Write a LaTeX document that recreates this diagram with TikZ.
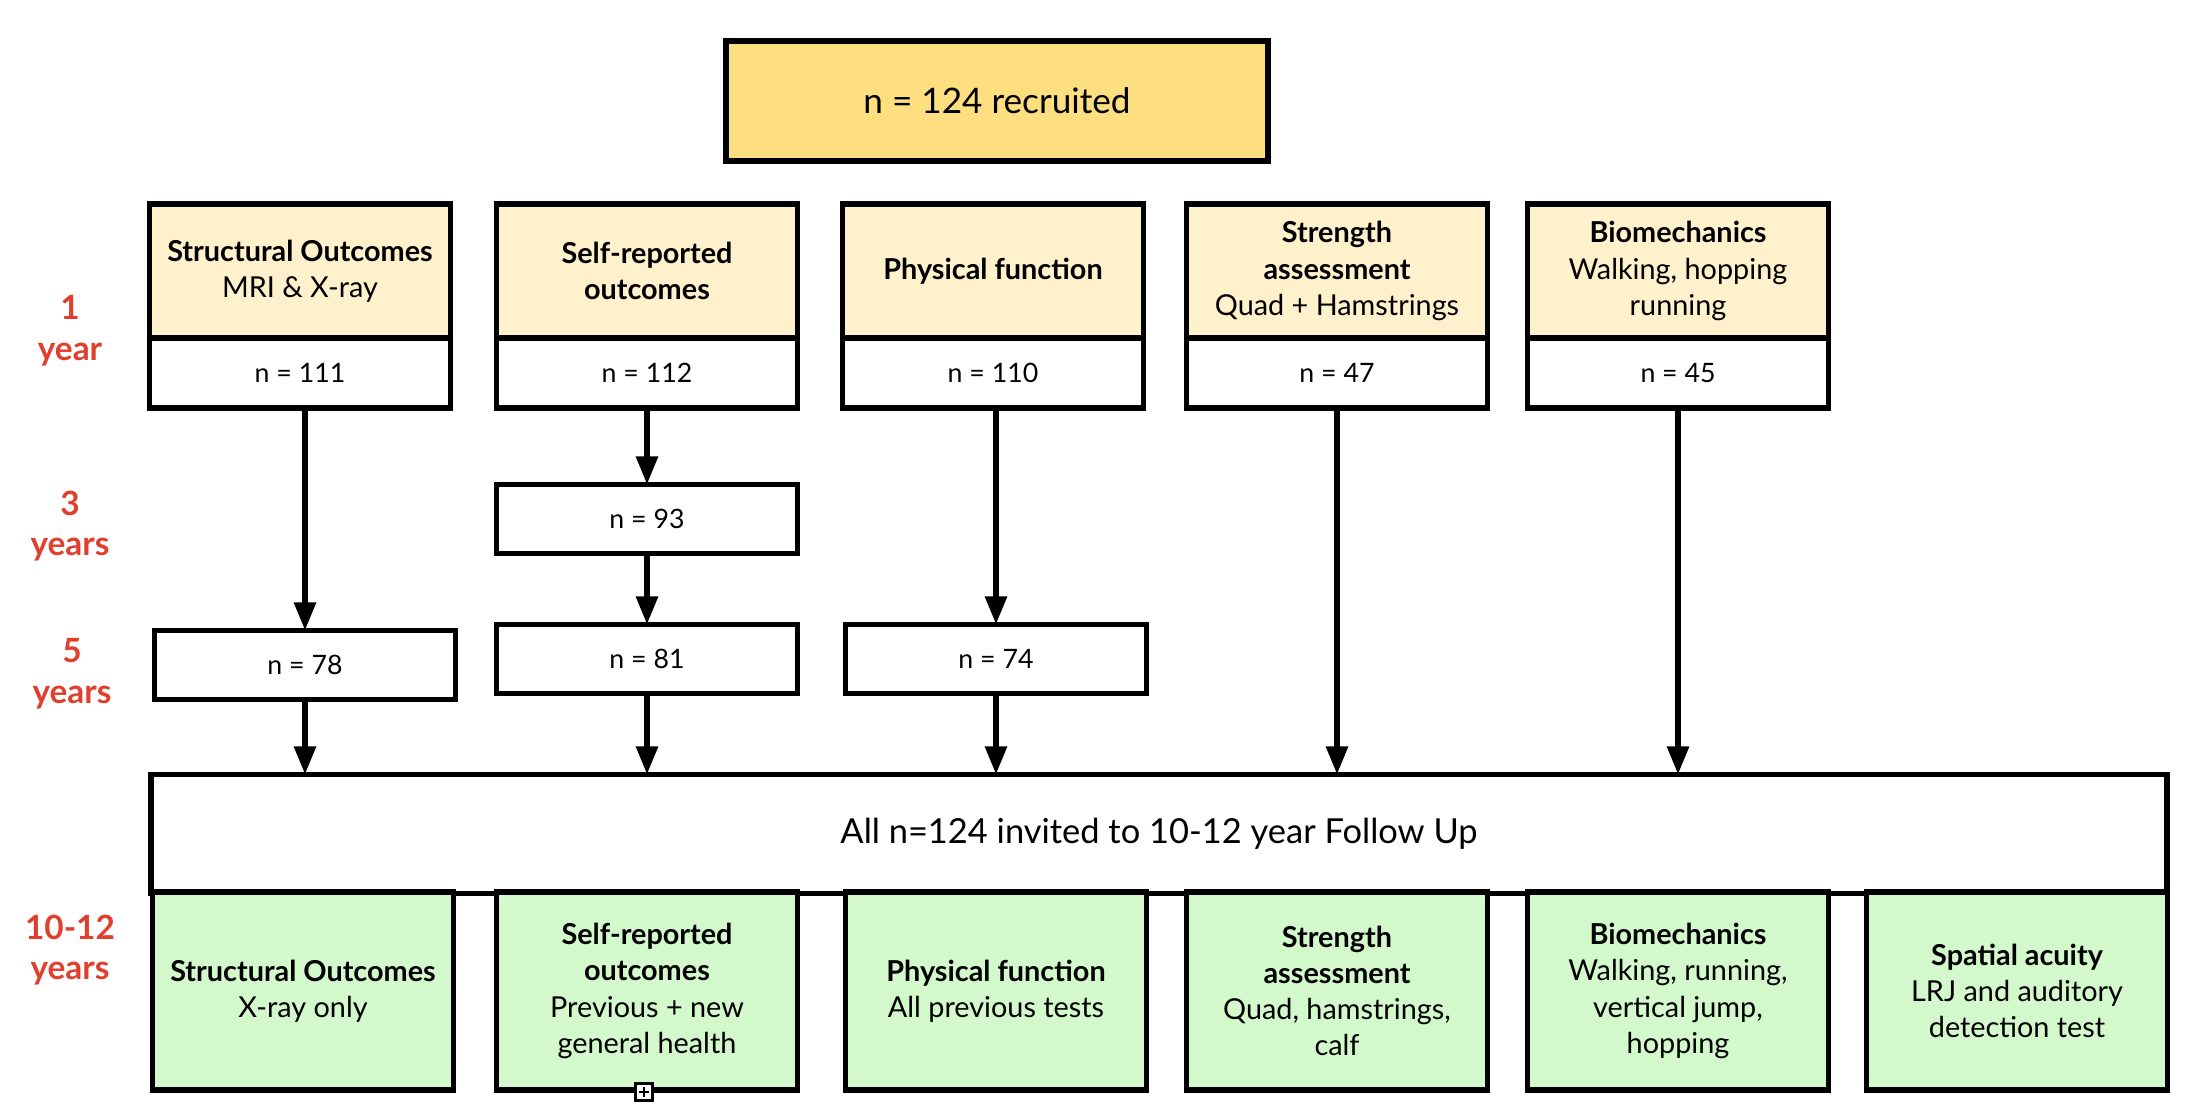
\documentclass[tikz,border=0pt]{standalone}
\usepackage{fontspec}
\setmainfont{Lato}
\usetikzlibrary{arrows.meta,positioning}
\definecolor{gold}{HTML}{FDDF80}
\definecolor{cream}{HTML}{FFF1CB}
\definecolor{mint}{HTML}{D3F8CC}
\definecolor{rust}{HTML}{DF3F2C}
\begin{document}
\begin{tikzpicture}[box/.style={draw,line width=1.6pt,outer sep=0pt,inner sep=1pt,minimum width=3.01cm,align=center,font=\fontsize{8.2}{10.3}\selectfont},
  head/.style={box,fill=cream,minimum height=1.34cm},
  count/.style={box,fill=white,minimum height=0.70cm,font=\fontsize{7.6}{9}\selectfont},
  later/.style={count,minimum height=0.69cm},
  final/.style={box,fill=mint,minimum height=1.98cm},
  yr/.style={text=rust,align=center,font=\bfseries\fontsize{9.5}{11.6}\selectfont},
  arr/.style={line width=1.6pt,-{Triangle[length=0.28cm,width=0.21cm]}}]
  \useasboundingbox (0,0) rectangle (21.92,11.18);
  \node[box,fill=gold,minimum width=5.42cm,minimum height=1.20cm,font=\fontsize{10}{12}\selectfont] (top) at (9.97,10.17) {n = 124 recruited};

  \node[head] (h1) at (3.00,8.47) {\textbf{Structural Outcomes}\\MRI \& X-ray};
  \node[head] (h2) at (6.47,8.47) {\textbf{Self-reported}\\\textbf{outcomes}};
  \node[head] (h3) at (9.93,8.47) {\textbf{Physical function}};
  \node[head] (h4) at (13.37,8.47) {\textbf{Strength}\\\textbf{assessment}\\Quad + Hamstrings};
  \node[head] (h5) at (16.78,8.47) {\textbf{Biomechanics}\\Walking, hopping\\running};
  \node[count,below=0pt of h1] (c1) {n = 111};
  \node[count,below=0pt of h2] (c2) {n = 112};
  \node[count,below=0pt of h3] (c3) {n = 110};
  \node[count,below=0pt of h4] (c4) {n = 47};
  \node[count,below=0pt of h5] (c5) {n = 45};

  \node[later] (t2) at (6.47,5.99) {n = 93};
  \node[later] (f1) at (3.05,4.53) {n = 78};
  \node[later] (f2) at (6.47,4.59) {n = 81};
  \node[later] (f3) at (9.96,4.59) {n = 74};

  \node[box,fill=white,minimum width=20.16cm,minimum height=1.19cm,font=\fontsize{9.8}{12}\selectfont] (all) at (11.59,2.84) {All n=124 invited to 10-12 year Follow Up};
  \node[final] (g1) at (3.03,1.27) {\textbf{Structural Outcomes}\\X-ray only};
  \node[final] (g2) at (6.47,1.27) {\textbf{Self-reported}\\\textbf{outcomes}\\Previous + new\\general health};
  \node[final] (g3) at (9.96,1.27) {\textbf{Physical function}\\All previous tests};
  \node[final] (g4) at (13.37,1.27) {\textbf{Strength}\\\textbf{assessment}\\Quad, hamstrings,\\calf};
  \node[final] (g5) at (16.78,1.27) {\textbf{Biomechanics}\\Walking, running,\\vertical jump,\\hopping};
  \node[final] (g6) at (20.17,1.27) {\textbf{Spatial acuity}\\LRJ and auditory\\detection test};

  \node[yr] (l1) at (0.70,7.87) {1\\year};
  \node[yr] (l3) at (0.70,5.92) {3\\years};
  \node[yr] (l5) at (0.72,4.44) {5\\years};
  \node[yr] (l10) at (0.70,1.68) {10-12\\years};

  \draw[arr] (c1.south -| f1) -- (f1);
  \draw[arr] (c2) -- (t2);
  \draw[arr] (t2) -- (f2);
  \draw[arr] (c3.south -| f3) -- (f3);
  \draw[arr] (f1) -- (f1 |- all.north);
  \draw[arr] (f2) -- (f2 |- all.north);
  \draw[arr] (f3) -- (f3 |- all.north);
  \draw[arr] (c4) -- (c4 |- all.north);
  \draw[arr] (c5) -- (c5 |- all.north);

  \node[draw,line width=0.6pt,fill=white,minimum size=0.17cm,inner sep=0pt] (plus) at (6.44,0.26) {};
  \draw[line width=0.5pt] ([yshift=-1.2pt]plus.north) -- ([yshift=1.2pt]plus.south) ([xshift=1.2pt]plus.west) -- ([xshift=-1.2pt]plus.east);
\end{tikzpicture}
\end{document}
